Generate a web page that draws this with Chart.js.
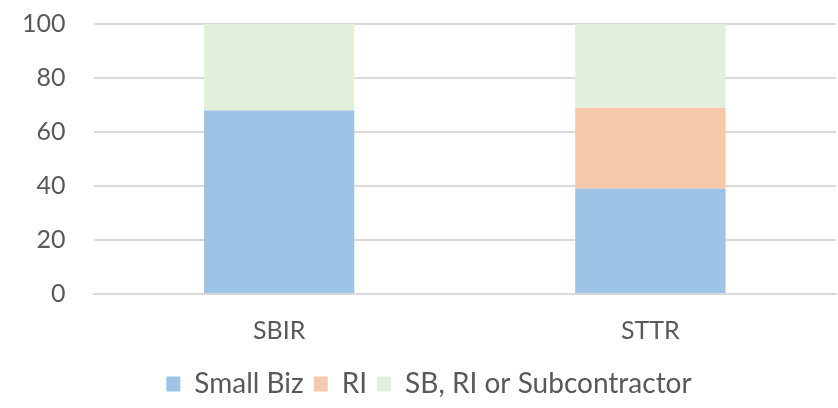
<!DOCTYPE html>
<html>
<head>
<meta charset="utf-8">
<script src="https://cdn.jsdelivr.net/npm/chart.js@4/dist/chart.umd.min.js"></script>
<style>
  html, body { margin: 0; padding: 0; background: #fff; }
  #wrap { width: 838px; height: 408px; }
</style>
</head>
<body>
<div id="wrap"><canvas id="chart"></canvas></div>
<script>
const categories = ['SBIR', 'STTR'];
const seriesNames = ['Small Biz', 'RI', 'SB, RI or Subcontractor'];
const smallBiz = [68, 39];
const ri = [0, 30];
const sbRiSub = [32, 31];
const yTicks = [0, 20, 40, 60, 80, 100];

const COLORS = ['#9DC3E6', '#F6C9AA', '#E2EFDA'];
const FONT = 'Lato, "Open Sans", "Liberation Sans", sans-serif';

const values = [smallBiz, ri, sbRiSub];

new Chart(document.getElementById('chart').getContext('2d'), {
  type: 'bar',
  data: {
    labels: categories,
    datasets: seriesNames.map((name, i) => ({
      label: name,
      data: values[i],
      backgroundColor: COLORS[i],
      borderWidth: 0,
      categoryPercentage: 1,
      barPercentage: 0.405,
    }))
  },
  options: {
    responsive: true,
    maintainAspectRatio: false,
    animation: false,
    layout: { padding: { top: 24, right: 2, left: 22, bottom: 0 } },
    plugins: {
      tooltip: { enabled: false },
      legend: {
        position: 'bottom',
        labels: {
          font: { family: FONT, size: 28 },
          color: '#595959',
          boxWidth: 14,
          boxHeight: 15,
          padding: 10,
        }
      }
    },
    scales: {
      x: {
        stacked: true,
        grid: { display: false },
        border: { color: '#d9d9d9', width: 2 },
        ticks: { font: { family: FONT, size: 25 }, color: '#595959', padding: 14 },
      },
      y: {
        stacked: true,
        min: 0,
        max: 100,
        afterBuildTicks: (axis) => { axis.ticks = yTicks.map(v => ({ value: v })); },
        grid: { color: '#d9d9d9', lineWidth: 2, drawTicks: true, tickLength: 28, tickColor: 'rgba(0,0,0,0)' },
        border: { display: false },
        ticks: { font: { family: FONT, size: 25 }, color: '#595959', padding: 0 },
      }
    }
  }
});
</script>
</body>
</html>
